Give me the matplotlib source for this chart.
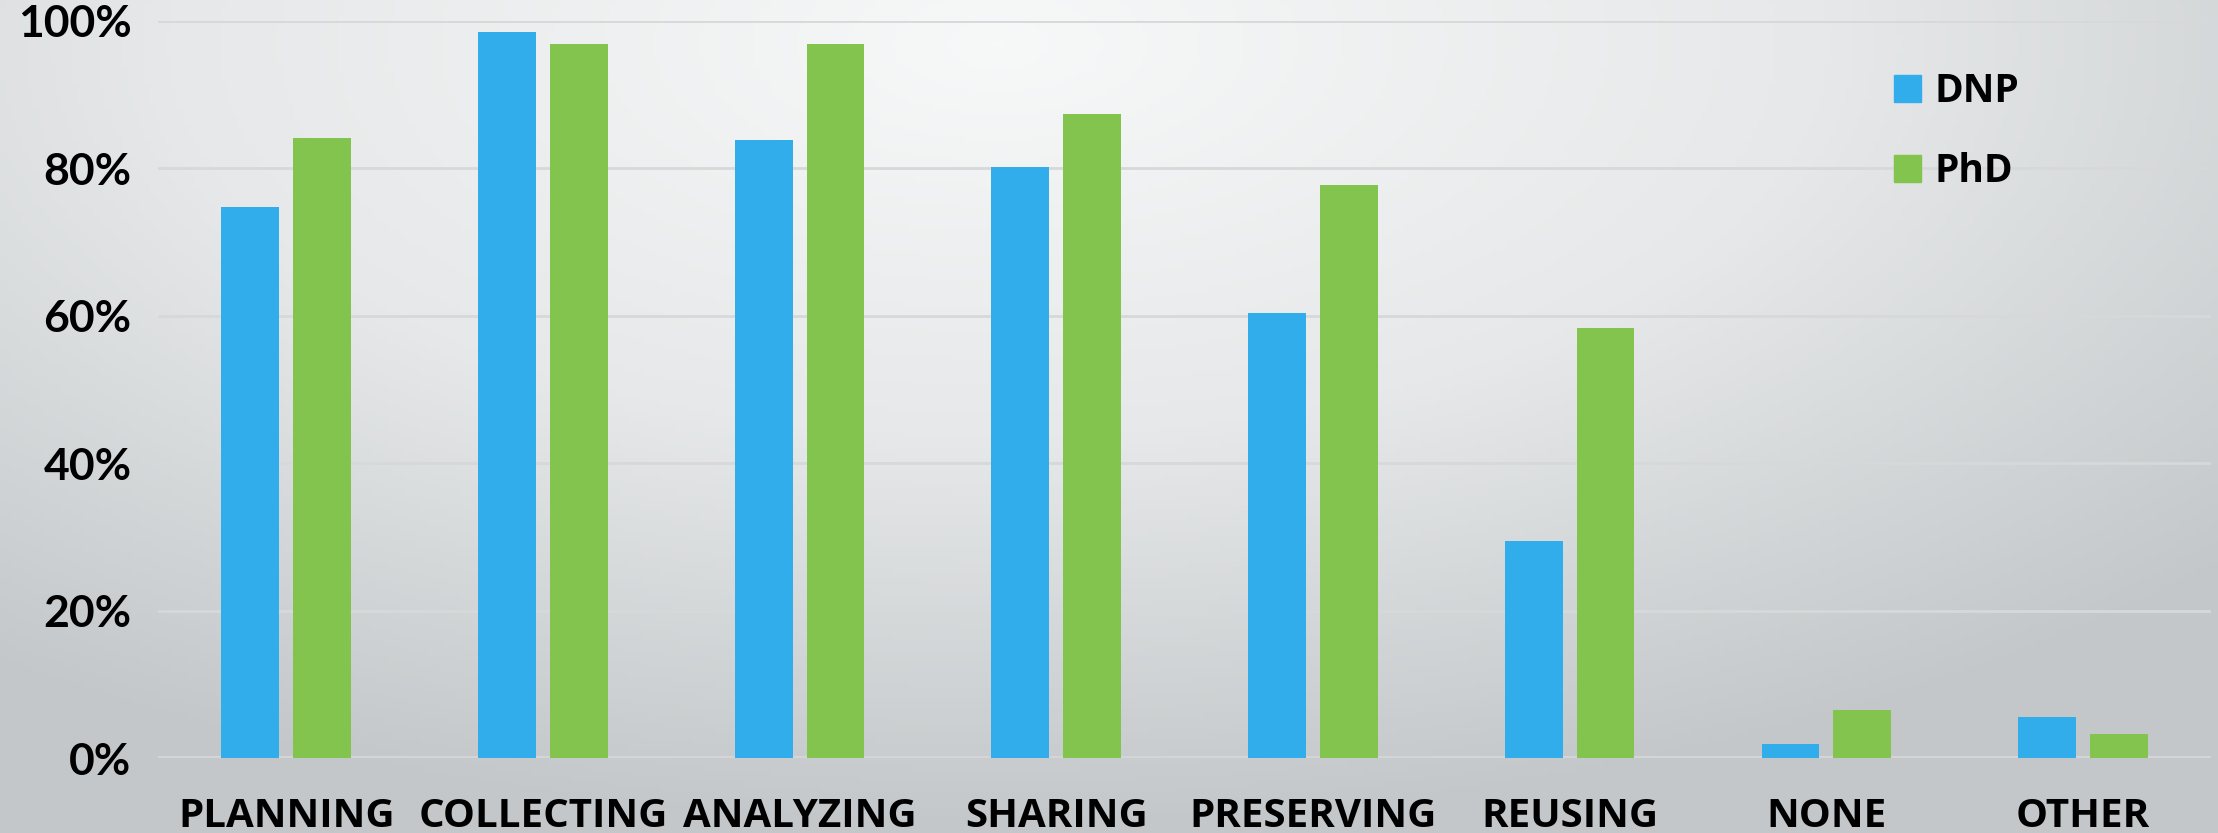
import numpy as np
import matplotlib.pyplot as plt
from matplotlib.colors import LinearSegmentedColormap
from matplotlib.patches import Patch
from matplotlib.ticker import FuncFormatter

categories = ['PLANNING', 'COLLECTING', 'ANALYZING', 'SHARING',
              'PRESERVING', 'REUSING', 'NONE', 'OTHER']
dnp = [74.7, 98.5, 83.9, 80.2, 60.3, 29.4, 1.9, 5.6]
phd = [84.1, 96.9, 96.9, 87.3, 77.7, 58.3, 6.5, 3.3]
yticks = [0, 20, 40, 60, 80, 100]

blue = '#32ADEC'
green = '#83C44F'

fig = plt.figure(figsize=(22.18, 8.33), dpi=100)

# background: soft radial gradient, light near the top middle
bg = fig.add_axes([0, 0, 1, 1])
gx, gy = np.meshgrid(np.linspace(0, 1, 400), np.linspace(0, 1, 160))
r = np.sqrt(((gx - 0.45) / 0.75) ** 2 + ((gy - 0.05) / 0.95) ** 2)
cmap = LinearSegmentedColormap.from_list('bg', ['#f7f8f8', '#e6e8e9', '#c3c7c9'])
bg.imshow(np.clip(r, 0, 1), cmap=cmap, aspect='auto', extent=[0, 1, 1, 0],
          vmin=0, vmax=1)
bg.axis('off')

ax = fig.add_axes([0.0712, 0.09, 0.9258, 0.885])
ax.patch.set_alpha(0)

x = np.arange(len(categories))
w = 0.225
ax.bar(x - 0.14, dnp, w, color=blue, zorder=3, label='DNP')
ax.bar(x + 0.14, phd, w, color=green, zorder=3, label='PhD')

ax.set_xlim(-0.5, len(categories) - 0.5)
ax.set_ylim(0, 100)
ax.set_yticks(yticks)
ax.yaxis.set_major_formatter(FuncFormatter(lambda v, p: f'{int(v)}%'))
ax.grid(axis='y', color='#d6d8d9', linewidth=2, zorder=0)
ax.axhline(0, color='#d3d5d6', linewidth=3, zorder=2)
for s in ax.spines.values():
    s.set_visible(False)

ax.set_xticks(x)
ax.set_xticklabels(categories, fontsize=29, fontweight='bold',
                   family='Open Sans')
ax.tick_params(axis='x', length=0, pad=28)
ax.tick_params(axis='y', length=0, pad=19, labelsize=32)
for t in ax.get_yticklabels():
    t.set_fontweight('bold')
    t.set_family('Lato')

handles = [Patch(color=blue), Patch(color=green)]
fig.legend(handles, ['DNP', 'PhD'], loc='upper left',
           bbox_to_anchor=(0.845, 0.937), frameon=False,
           prop={'family': 'Open Sans', 'weight': 'bold', 'size': 28},
           handlelength=0.7, handleheight=0.7, handletextpad=0.35,
           labelspacing=1.05, borderpad=0)

fig.savefig('out.png', dpi=100)
